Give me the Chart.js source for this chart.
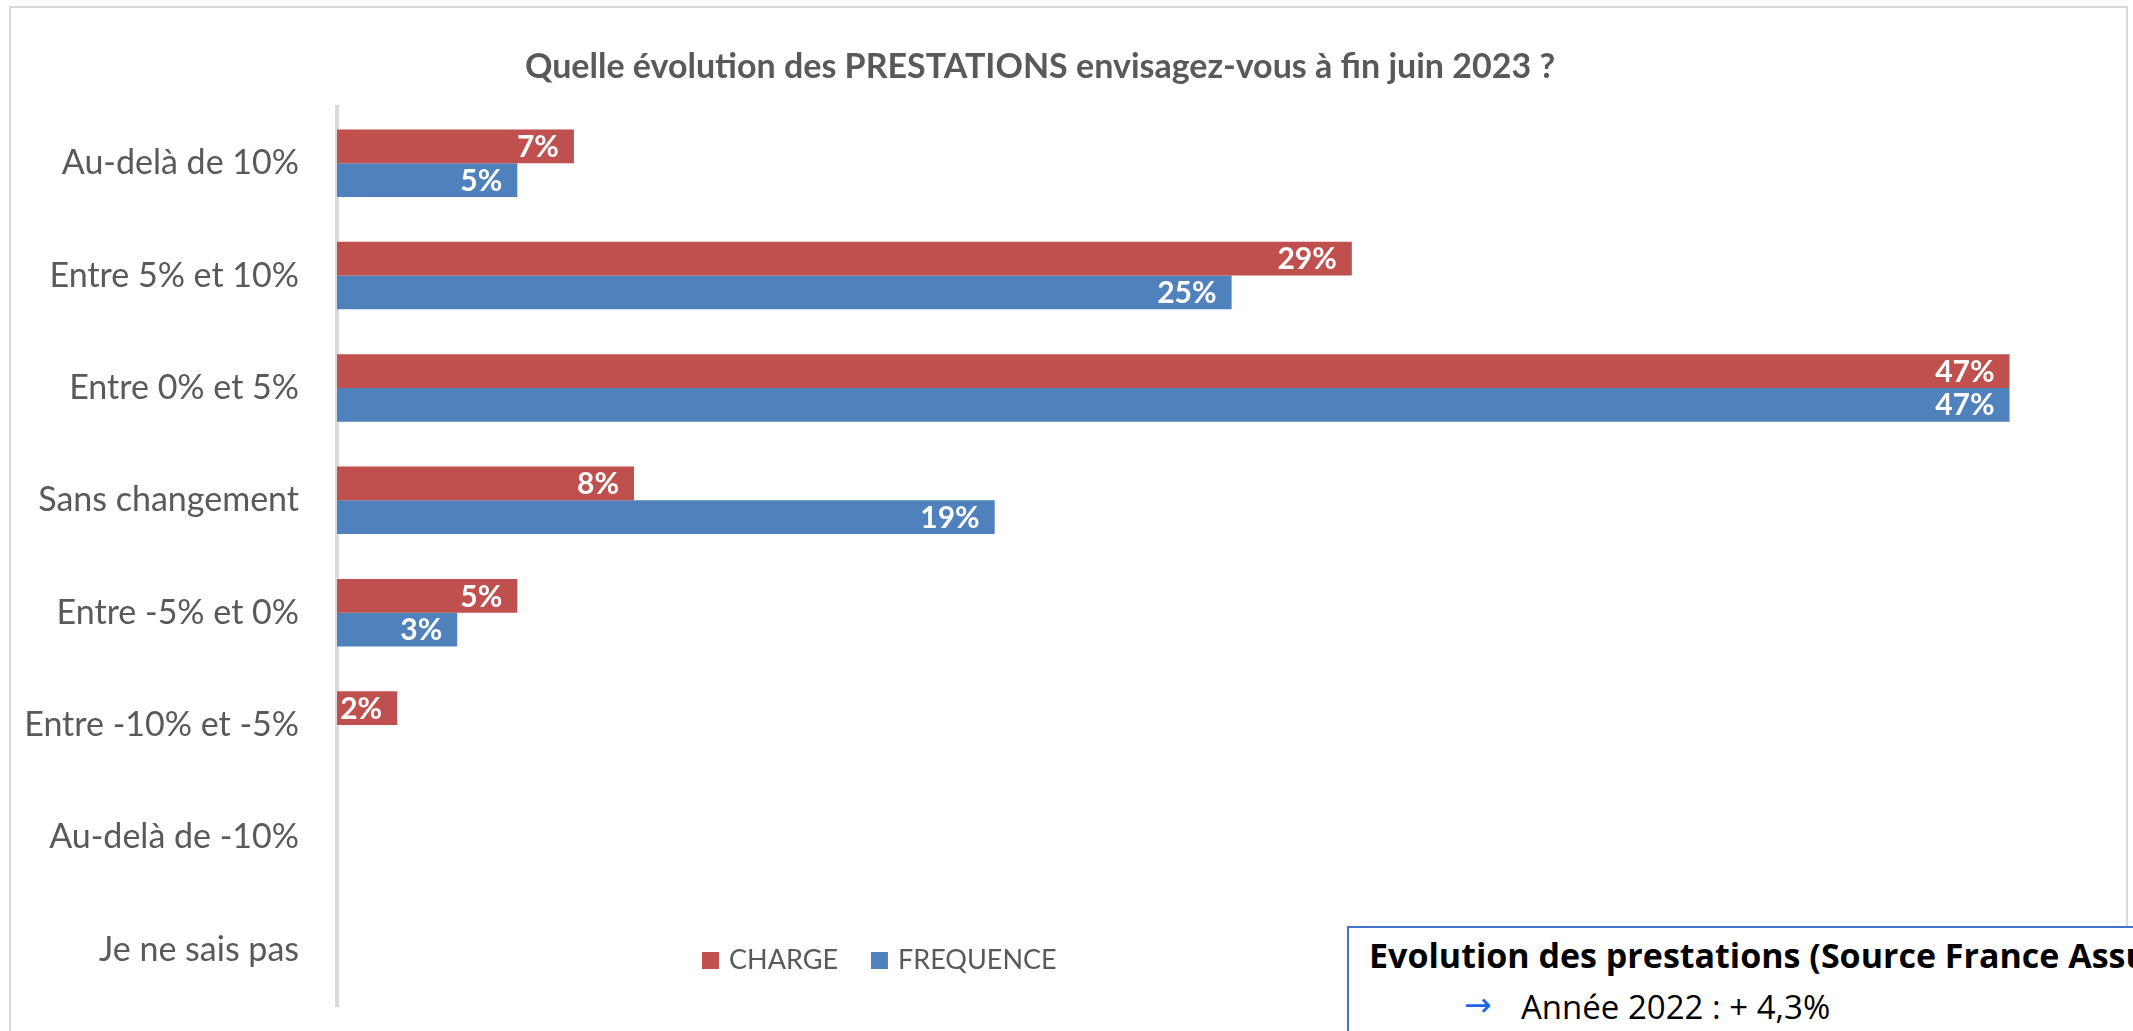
<!DOCTYPE html>
<html>
<head>
<meta charset="utf-8">
<script src="https://cdn.jsdelivr.net/npm/chart.js@4.4.0/dist/chart.umd.min.js"></script>
<style>
  html, body { margin: 0; padding: 0; background: #fff; overflow: hidden; }
  #wrap { position: relative; width: 2133px; height: 1031px; overflow: hidden; }
  #frame { position: absolute; left: 9px; top: 6px; width: 2119px; height: 1060px; border: 2px solid #d9d9d9; box-sizing: border-box; }
  #chart { position: absolute; left: 0; top: 0; }
  #title { position: absolute; left: 0; width: 2080px; top: 44px; text-align: center;
           font: bold 34px Lato, sans-serif; color: #595959; white-space: nowrap; }
  #note { position: absolute; left: 1347px; top: 926px; width: 900px; height: 200px;
          border: 2px solid #4472c4; background: #fff; color: #000; font-family: 'Open Sans', sans-serif; }
  #note .h { position: absolute; left: 20px; top: 4px; font-weight: bold; font-size: 34px; white-space: nowrap; }
  #note .arrow { position: absolute; left: 115px; top: 57px; font: 33px 'DejaVu Sans', sans-serif; color: #1a66e6; }
  #note .l { position: absolute; left: 172px; top: 56px; font-size: 33px; white-space: nowrap; }
</style>
</head>
<body>
<div id="wrap">
  <div id="frame"></div>
  <canvas id="chart" width="2133" height="1031"></canvas>
  <div id="title">Quelle évolution des PRESTATIONS envisagez-vous à fin juin 2023 ?</div>
  <div id="note">
    <div class="h">Evolution des prestations (Source France Assureurs)</div>
    <div class="arrow">→</div>
    <div class="l">Année 2022 : + 4,3%</div>
  </div>
</div>
<script>
const categories = ['Au-delà de 10%', 'Entre 5% et 10%', 'Entre 0% et 5%', 'Sans changement',
  'Entre -5% et 0%', 'Entre -10% et -5%', 'Au-delà de -10%', 'Je ne sais pas'];
const charge = [6.7, 28.7, 47.3, 8.4, 5.1, 1.7, 0, 0];
const frequence = [5.1, 25.3, 47.3, 18.6, 3.4, 0, 0, 0];
const seriesNames = ['CHARGE', 'FREQUENCE'];

const GRAY = '#595959';

// white value labels inside the end of each bar
const barLabels = {
  id: 'barLabels',
  afterDatasetsDraw(chart) {
    const ctx = chart.ctx;
    ctx.save();
    ctx.font = 'bold 30px Lato';
    ctx.fillStyle = '#fff';
    ctx.textAlign = 'right';
    ctx.textBaseline = 'middle';
    chart.data.datasets.forEach((ds, i) => {
      chart.getDatasetMeta(i).data.forEach((bar, j) => {
        const v = ds.data[j];
        if (!v) return;
        ctx.fillText(Math.round(v) + '%', bar.x - 15, bar.y + 1);
      });
    });
    ctx.restore();
  }
};

// legend drawn inside the plot, like the Excel original
const insideLegend = {
  id: 'insideLegend',
  afterDraw(chart) {
    const ctx = chart.ctx;
    ctx.save();
    ctx.font = '27px Lato';
    ctx.textBaseline = 'middle';
    let x = 702;
    const y = 960;
    chart.data.datasets.forEach(ds => {
      ctx.fillStyle = ds.backgroundColor;
      ctx.fillRect(x, y - 8, 17, 17);
      x += 27;
      ctx.fillStyle = GRAY;
      ctx.fillText(ds.label, x, y);
      x += ctx.measureText(ds.label).width + 33;
    });
    ctx.restore();
  }
};

new Chart(document.getElementById('chart'), {
  type: 'bar',
  data: {
    labels: categories,
    datasets: [
      { label: seriesNames[0], data: charge, backgroundColor: '#c0504d' },
      { label: seriesNames[1], data: frequence, backgroundColor: '#4f81bd' }
    ]
  },
  options: {
    indexAxis: 'y',
    responsive: false,
    animation: false,
    layout: { padding: { top: 107, right: 28, bottom: 25, left: 0 } },
    datasets: { bar: { categoryPercentage: 0.6, barPercentage: 1.0 } },
    plugins: { legend: { display: false }, tooltip: { enabled: false } },
    scales: {
      x: { display: false, min: 0, max: 50 },
      y: {
        z: 1,
        grid: { display: false, drawTicks: false },
        border: { display: true, color: '#d9d9d9', width: 4 },
        ticks: { color: GRAY, font: { family: 'Lato', size: 34 }, padding: 38 },
        afterFit(s) {
          s.width = 337;
          s.paddingTop = 0;
          s.paddingBottom = 0;
        }
      }
    }
  },
  plugins: [barLabels, insideLegend]
});
</script>
</body>
</html>
